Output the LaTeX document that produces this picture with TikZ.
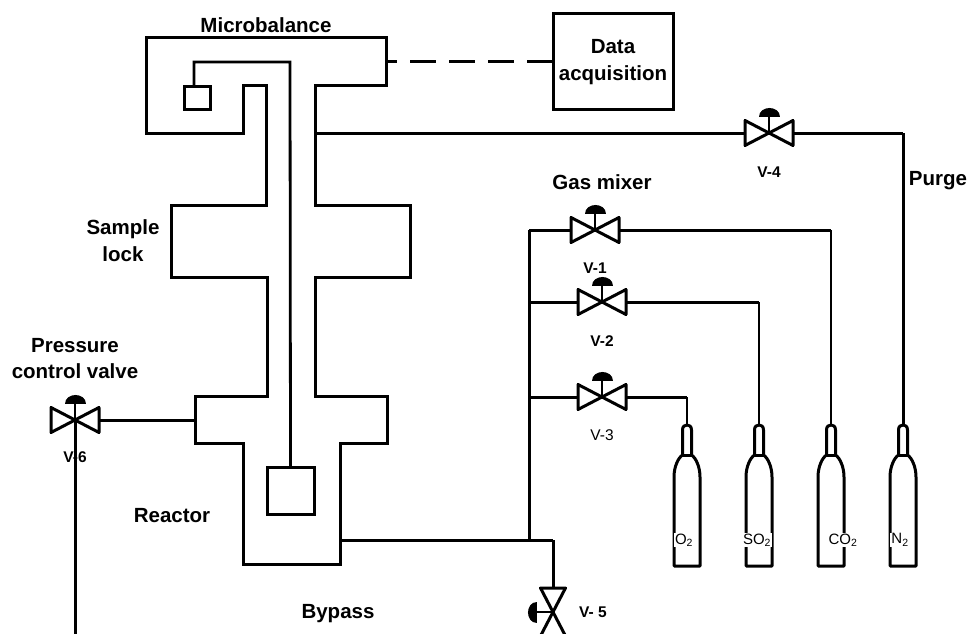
\documentclass[tikz,border=0pt]{standalone}
\usepackage{fontspec}
\setmainfont{Liberation Sans}
\tikzset{
	pipe/.style={line width=3pt},
	thinpipe/.style={line width=2.8pt},
	biglabel/.style={font=\fontsize{20.5}{26.5}\selectfont\bfseries, align=center, inner sep=0pt},
	vlabel/.style={font=\fontsize{15.5}{18}\selectfont\bfseries, inner sep=0pt},
	gaslabel/.style={font=\fontsize{15}{18}\selectfont, fill=white, inner sep=1pt},
	pics/valve/.style={code={
		\coordinate (-w) at (-25,0);
		\coordinate (-e) at (25,0);
		\coordinate (-c) at (0,0);
		\draw [line width=3pt, line join=round] (-24,-12.5) -- (24,12.5) -- (24,-12.5) -- (-24,12.5) -- cycle;
		\draw [line width=2.8pt] (0,0) -- (0,-18);
		\fill (-10.5,-16.5) .. controls (-10.5,-28) and (10.5,-28) .. (10.5,-16.5) -- cycle;
	}},
	pics/bottle/.style={code={
		\coordinate (-top) at (0,0);
		\draw [line width=3pt, line join=round] (-13,141) -- (-13,52) .. controls (-13,42) and (-9,33) .. (-4.5,30) -- (-4.5,5) .. controls (-4.5,1) and (-2,0) .. (0,0) .. controls (2,0) and (4.5,1) .. (4.5,5) -- (4.5,30) .. controls (9,33) and (13,42) .. (13,52) -- (13,141) -- cycle;
		\draw [line width=3pt] (-4.5,30) -- (4.5,30);
	}}
}
\begin{document}
\begin{tikzpicture}[x=1pt, y=-1pt]
	\useasboundingbox (0,0) rectangle (970,634);

	\draw [pipe, line join=miter] (146,38) -- (386,38) -- (386,86) -- (315,86) -- (315,205) -- (410,205) -- (410,277) -- (315,277) -- (315,396) -- (387,396) -- (387,443) -- (340,443) -- (340,564) -- (243,564) -- (243,443) -- (195,443) -- (195,396) -- (267,396) -- (267,277) -- (171,277) -- (171,205) -- (266,205) -- (266,86) -- (243,86) -- (243,133) -- (146,133) -- cycle;

	\node [draw, line width=3pt, minimum width=26pt, minimum height=23pt, inner sep=0pt] (pan) at (197.5,98.5) {};
	\node [draw, line width=3pt, minimum width=47pt, minimum height=47pt, inner sep=0pt] (sample) at (290.5,491) {};
	\draw [thinpipe] (pan.north -| 194,0) -- (194,62) -- (290,62) -- (sample.north);

	\node [draw, line width=3pt, minimum width=120pt, minimum height=96pt, inner sep=0pt, biglabel] (daq) at (613,62) {Data\\acquisition};

	\coordinate (scale) at (386,62);
	\coordinate (purgeport) at (315,133);
	\coordinate (vent) at (195,420);
	\coordinate (outlet) at (340,540);
	\coordinate (ventend) at (75,640);
	\coordinate (j1) at (529,230);
	\coordinate (j2) at (529,302);
	\coordinate (j3) at (529,397);
	\coordinate (j4) at (529,540);
	\coordinate (k4) at (903,133);
	\coordinate (k1) at (831,230);
	\coordinate (k2) at (759,302);
	\coordinate (k3) at (687,397);
	\coordinate (k5) at (553,540);

	\pic (v4) at (769,133) {valve};
	\pic (v1) at (595,230) {valve};
	\pic (v2) at (602,302) {valve};
	\pic (v3) at (602,397) {valve};
	\pic [rotate=90] (v5) at (553,612) {valve};
	\pic (v6) at (75,420) {valve};

	\pic (o2) at (687,425) {bottle};
	\pic (so2) at (759,425) {bottle};
	\pic (co2) at (831,425) {bottle};
	\pic (n2) at (903,425) {bottle};

	\node [biglabel] (microbalance) at (266,25) {Microbalance};
	\node [biglabel] (samplelock) at (123,240.5) {Sample\\lock};
	\node [biglabel] (pressure) at (75,358.5) {Pressure\\control valve};
	\node [biglabel] (reactor) at (172,516) {Reactor};
	\node [biglabel] (bypass) at (338,614) {Bypass};
	\node [biglabel] (gasmixer) at (602,182) {Gas mixer};
	\node [biglabel] (purge) at (938,181) {Purge};

	\node [vlabel] (lv4) at (769,172) {V-4};
	\node [vlabel] (lv1) at (595,268) {V-1};
	\node [vlabel] (lv2) at (602,341) {V-2};
	\node [vlabel, font=\fontsize{15.5}{18}\selectfont] (lv3) at (602,435) {V-3};
	\node [vlabel] (lv5) at (593,612) {V- 5};
	\node [vlabel] (lv6) at (75,457) {V-6};

	\node [gaslabel] (lo2) at (684,540) {O\textsubscript{2}};
	\node [gaslabel] (lso2) at (757,540) {SO\textsubscript{2}};
	\node [gaslabel] (lco2) at (843,540) {CO\textsubscript{2}};
	\node [gaslabel] (ln2) at (900,540) {N\textsubscript{2}};

	\path [-, pipe, dash pattern=on 26pt off 13pt, dash phase=15pt] (scale) edge (daq.west |- scale);
	\path [-, pipe] (purgeport) edge (v4-w);
	\path [-, pipe] (v4-e) edge (k4);
	\path [-, pipe] (k4) edge (n2-top);
	\path [-, pipe] (j1) edge (v1-w);
	\path [-, pipe] (v1-e) edge (k1);
	\path [-, thinpipe] (k1) edge (co2-top);
	\path [-, pipe] (j2) edge (v2-w);
	\path [-, pipe] (v2-e) edge (k2);
	\path [-, thinpipe] (k2) edge (so2-top);
	\path [-, pipe] (j3) edge (v3-w);
	\path [-, pipe] (v3-e) edge (k3);
	\path [-, thinpipe] (k3) edge (o2-top);
	\path [-, pipe] (j1) edge (j4);
	\path [-, pipe] (outlet) edge (k5);
	\path [-, pipe] (k5) edge (v5-e);
	\path [-, pipe] (v6-e) edge (vent);
	\path [-, pipe] (v6-c) edge (ventend);
\end{tikzpicture}
\end{document}
